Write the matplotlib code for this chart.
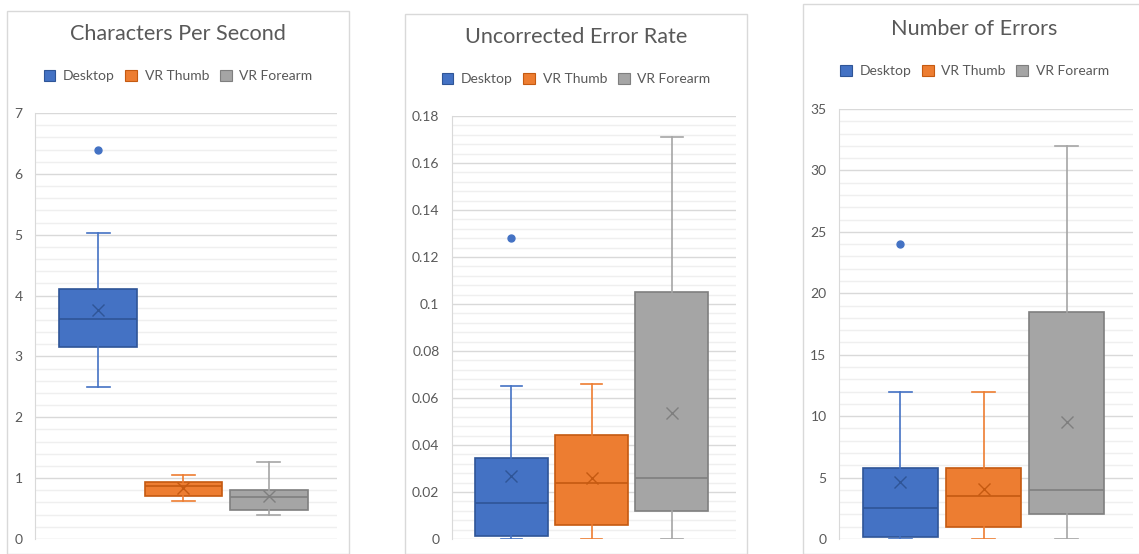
import matplotlib
matplotlib.use("Agg")
import matplotlib.pyplot as plt
from matplotlib.patches import Patch, Rectangle
from matplotlib.ticker import MultipleLocator, FuncFormatter

# ---------------- data ----------------
categories = ["Desktop", "VR Thumb", "VR Forearm"]
titles = ["Characters Per Second", "Uncorrected Error Rate", "Number of Errors"]

cps_low = [2.50, 0.62, 0.40]
cps_q1 = [3.16, 0.70, 0.48]
cps_med = [3.61, 0.87, 0.69]
cps_q3 = [4.11, 0.94, 0.80]
cps_high = [5.03, 1.05, 1.27]
cps_mean = [3.77, 0.84, 0.70]
cps_fliers = [[6.40], [], []]

uer_low = [0.0, 0.0, 0.0]
uer_q1 = [0.0012, 0.006, 0.012]
uer_med = [0.0153, 0.024, 0.0258]
uer_q3 = [0.0345, 0.0443, 0.1053]
uer_high = [0.0653, 0.066, 0.1712]
uer_mean = [0.0268, 0.0258, 0.0538]
uer_fliers = [[0.1282], [], []]

ne_low = [0.0, 0.0, 0.0]
ne_q1 = [0.2, 1.0, 2.0]
ne_med = [2.5, 3.5, 4.0]
ne_q3 = [5.75, 5.75, 18.5]
ne_high = [12.0, 12.0, 32.0]
ne_mean = [4.6, 4.1, 9.5]
ne_fliers = [[24.0], [], []]

ylims = [(0, 7), (0, 0.18), (0, 35)]
major_steps = [1, 0.02, 5]

# ---------------- styling ----------------
fills = ["#4472C4", "#ED7D31", "#A5A5A5"]
edges = ["#2F5597", "#C55A11", "#7F7F7F"]
text_color = "#595959"
font = "Lato"
plt.rcParams["font.family"] = [font, "DejaVu Sans"]

W, H = 1139, 554
fig = plt.figure(figsize=(W / 100, H / 100), dpi=100)
fig.patch.set_facecolor("white")

# pixel layout: (frame_left, frame_top, frame_right, ax_left, ax_right, ax_top, title_y, legend_y)
layout = [
    (7, 10.5, 349, 35, 337, 113, 34, 76),
    (405, 13.5, 747, 452, 736, 116, 37, 79),
    (803, 4, 1146, 839, 1133, 109, 29, 71),
]
ax_bottom = 539

stats_all = [
    (cps_low, cps_q1, cps_med, cps_q3, cps_high, cps_mean, cps_fliers),
    (uer_low, uer_q1, uer_med, uer_q3, uer_high, uer_mean, uer_fliers),
    (ne_low, ne_q1, ne_med, ne_q3, ne_high, ne_mean, ne_fliers),
]


def fmt_factory(step):
    def f(v, pos):
        if step >= 1:
            return f"{v:.0f}"
        s = f"{v:.2f}".rstrip("0").rstrip(".")
        return s if s else "0"
    return f


for i, (fl, ft, fr, al, ar, at, ty, ly) in enumerate(layout):
    # panel frame
    fig.add_artist(Rectangle((fl / W, 0), (fr - fl) / W, 1 - ft / H - 0.0,
                             transform=fig.transFigure, fill=False,
                             edgecolor="#D9D9D9", lw=1.0, clip_on=False))
    ax = fig.add_axes([al / W, (H - ax_bottom) / H, (ar - al) / W, (ax_bottom - at) / H])
    low, q1, med, q3, high, mean, fliers = stats_all[i]
    for j in range(3):
        st = [dict(whislo=low[j], q1=q1[j], med=med[j], q3=q3[j], whishi=high[j],
                   mean=mean[j], fliers=fliers[j], label=categories[j])]
        ax.bxp(st, positions=[j], widths=0.91, patch_artist=True, showmeans=True,
               showfliers=True, manage_ticks=False,
               boxprops=dict(facecolor=fills[j], edgecolor=edges[j], lw=1.2),
               medianprops=dict(color=edges[j], lw=1.2),
               whiskerprops=dict(color=fills[j], lw=1.2),
               capprops=dict(color=fills[j], lw=1.2),
               capwidths=0.27,
               meanprops=dict(marker="x", markeredgecolor=edges[j], markersize=9,
                              markeredgewidth=1.0, linestyle="none"),
               flierprops=dict(marker="o", markerfacecolor=fills[j],
                               markeredgecolor=fills[j], markersize=5))
    ax.set_xlim(-0.74, 2.8)
    ax.set_ylim(*ylims[i])
    ax.yaxis.set_major_locator(MultipleLocator(major_steps[i]))
    ax.yaxis.set_minor_locator(MultipleLocator(major_steps[i] / 5))
    ax.yaxis.set_major_formatter(FuncFormatter(fmt_factory(major_steps[i])))
    ax.grid(which="major", axis="y", color="#D9D9D9", lw=1.0)
    ax.grid(which="minor", axis="y", color="#EFEFEF", lw=1.0)
    ax.set_axisbelow(True)
    for s in ["top", "right", "bottom"]:
        ax.spines[s].set_visible(False)
    ax.spines["left"].set_color("#D9D9D9")
    ax.set_xticks([])
    ax.tick_params(axis="y", which="both", length=0, pad=9, labelsize=10, labelcolor=text_color)
    ax.patch.set_alpha(0)

    cx = (fl + fr) / 2 / W
    fig.text(cx, 1 - ty / H, titles[i], ha="center", va="center", fontsize=15.6, color=text_color)
    handles = [Patch(facecolor=fills[k], edgecolor=edges[k], lw=0.8, label=categories[k]) for k in range(3)]
    fig.legend(handles=handles, loc="center", bbox_to_anchor=(cx, 1 - ly / H), ncol=3,
               frameon=False, fontsize=10, labelcolor=text_color, handlelength=0.85,
               handleheight=0.85, handletextpad=0.55, columnspacing=0.75, borderpad=0)

fig.savefig("out.png", dpi=100)
